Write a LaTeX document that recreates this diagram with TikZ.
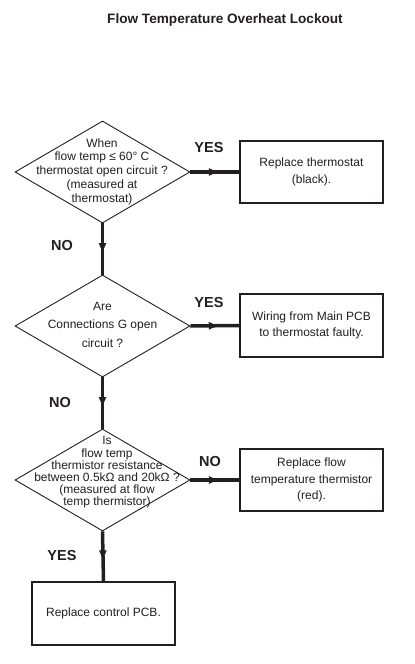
\documentclass[tikz,border=0pt]{standalone}
\usepackage{fontspec}
\setmainfont{Liberation Sans}
\usetikzlibrary{shapes.geometric,arrows.meta,decorations.markings}
\definecolor{ink}{HTML}{231F20}
\begin{document}
\begin{tikzpicture}[x=1bp,y=-1bp,
  dia/.style={draw=ink,line width=0.9bp,shape=diamond,minimum width=175bp,minimum height=102bp,inner sep=0pt},
  box/.style={draw=ink,line width=1.5bp,minimum width=143bp,minimum height=62bp,inner sep=0pt,align=center,text=ink,font=\fontsize{12bp}{16.3bp}\selectfont},
  dtxt/.style={align=center,inner sep=0pt,text=ink,font=\fontsize{12bp}{13.7bp}\selectfont},
  lab/.style={font=\fontsize{14.5bp}{16bp}\selectfont\bfseries,inner sep=0pt,text=ink},
  flow/.style={draw=ink,line width=3.5bp,postaction={decorate},
    decoration={markings,mark=at position 0.56 with {\arrow[ink]{Triangle[width=7bp,length=9bp]}}}}
]
\useasboundingbox (0,0) rectangle (414,664);
\fill[white] (0,0) rectangle (414,664);

\node[font=\fontsize{13.6bp}{15bp}\selectfont\bfseries,text=ink,inner sep=0pt] (title) at (225,20) {Flow Temperature Overheat Lockout};

% decision 1
\node[dia] (d1) at (102.5,172) {};
\node[dtxt] (t1) at (102,171.5) {When\\flow temp ≤ 60° C\\thermostat open circuit ?\\(measured at\\thermostat)};
\node[box] (b1) at (311.5,172) {Replace thermostat\\(black).};

% decision 2
\node[dia] (d2) at (102.5,326) {};
\node[dtxt,font=\fontsize{12bp}{18.5bp}\selectfont] (t2) at (102.5,324.5) {Are\\Connections G open\\circuit ?};
\node[box,minimum height=63bp] (b2) at (311.5,325.5) {Wiring from Main PCB\\to thermostat faulty.};

% decision 3
\node[dia] (d3) at (102.5,480) {};
\node[dtxt,font=\fontsize{12bp}{12.2bp}\selectfont] (t3) at (107,472.5) {Is\\flow temp\\thermistor resistance\\between 0.5kΩ and 20kΩ ?\\(measured at flow\\temp thermistor)};
\node[box] (b3) at (311.5,480) {Replace flow\\temperature thermistor\\(red).};

% final
\node[box,minimum height=63bp] (b4) at (103.5,613.5) {Replace control PCB.};

% connectors
\draw[flow] (d1.east) -- (b1.west);
\draw[flow] (d1.south) -- (d2.north);
\draw[flow] (d2.east) -- (b2.west);
\draw[flow] (d2.south) -- (d3.north);
\draw[flow] (d3.east) -- (b3.west);
\draw[flow] (d3.south) -- (b4.north);

% labels
\node[lab] (y1) at (209,148) {YES};
\node[lab] (n1) at (62,246) {NO};
\node[lab] (y2) at (209,303) {YES};
\node[lab] (n2) at (60,403) {NO};
\node[lab] (n3) at (210,462) {NO};
\node[lab] (y3) at (62,556) {YES};
\end{tikzpicture}
\end{document}
